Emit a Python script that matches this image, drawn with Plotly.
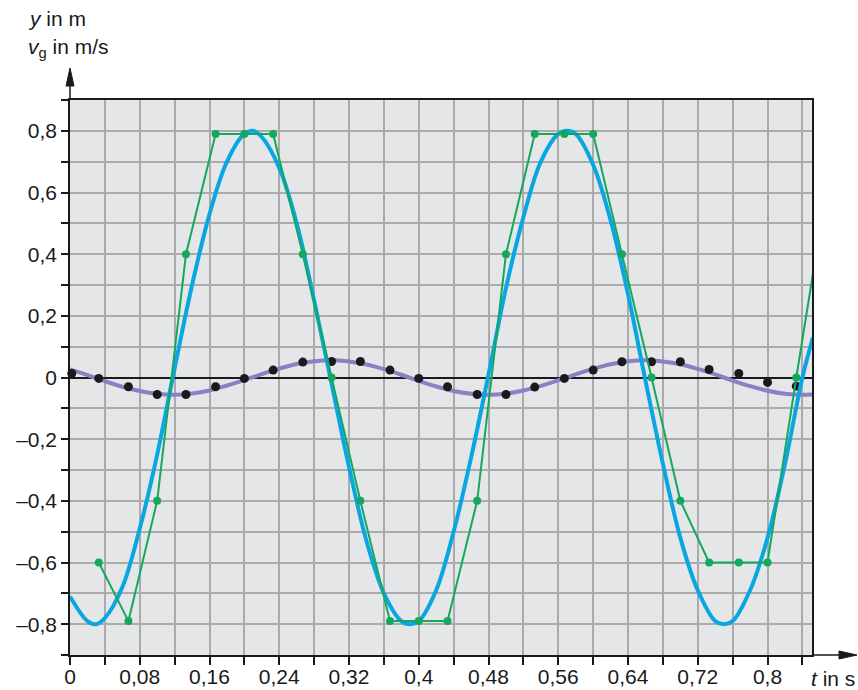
import plotly.graph_objects as go

# ---- data ----
t_blue = [0, 0.02, 0.03, 0.04, 0.06, 0.08, 0.10, 0.12, 0.14, 0.16, 0.18, 0.20, 0.21,
          0.22, 0.24, 0.26, 0.28, 0.30, 0.32, 0.34, 0.36, 0.38, 0.39,
          0.40, 0.42, 0.44, 0.46, 0.48, 0.50, 0.52, 0.54, 0.56, 0.57,
          0.58, 0.60, 0.62, 0.64, 0.66, 0.68, 0.70, 0.72, 0.74, 0.75,
          0.76, 0.78, 0.80, 0.82, 0.84, 0.852]
y_blue = [-0.71, -0.79, -0.80, -0.78, -0.68, -0.49, -0.25, 0.03, 0.30, 0.53, 0.70, 0.79, 0.80,
          0.78, 0.68, 0.50, 0.25, -0.02, -0.29, -0.53, -0.70, -0.79, -0.80,
          -0.79, -0.69, -0.50, -0.26, 0.01, 0.29, 0.52, 0.70, 0.79, 0.80,
          0.79, 0.69, 0.51, 0.27, -0.01, -0.28, -0.52, -0.69, -0.79, -0.80,
          -0.79, -0.69, -0.52, -0.28, 0.00, 0.13]

t_purple = [0, 0.02, 0.04, 0.06, 0.08, 0.10, 0.12, 0.14, 0.16, 0.18, 0.20, 0.22, 0.24,
            0.26, 0.28, 0.30, 0.32, 0.34, 0.36, 0.38, 0.40, 0.42, 0.44, 0.46, 0.48,
            0.50, 0.52, 0.54, 0.56, 0.58, 0.60, 0.62, 0.64, 0.66, 0.68, 0.70, 0.72,
            0.74, 0.76, 0.78, 0.80, 0.82, 0.84, 0.852]
y_purple = [0.026, 0.008, -0.012, -0.030, -0.044, -0.053, -0.056, -0.052, -0.042, -0.026,
            -0.008, 0.011, 0.029, 0.044, 0.053, 0.056, 0.052, 0.042, 0.027, 0.009, -0.011,
            -0.029, -0.044, -0.053, -0.056, -0.052, -0.042, -0.027, -0.009, 0.010, 0.028,
            0.043, 0.053, 0.056, 0.052, 0.043, 0.028, 0.010, -0.010, -0.028, -0.043,
            -0.053, -0.056, -0.055]

t_frames = [0.002, 0.033, 0.067, 0.1, 0.133, 0.167, 0.2, 0.233, 0.267, 0.3, 0.333, 0.367, 0.4,
            0.433, 0.467, 0.5, 0.533, 0.567, 0.6, 0.633, 0.667, 0.7, 0.733, 0.767, 0.8, 0.833]
y_black = [0.013, -0.003, -0.030, -0.055, -0.055, -0.030, -0.003, 0.024, 0.050, 0.052,
           0.052, 0.024, -0.003, -0.030, -0.055, -0.055, -0.031, -0.003, 0.024, 0.051,
           0.051, 0.051, 0.026, 0.013, -0.016, -0.028]

t_green = [0.033, 0.067, 0.1, 0.133, 0.167, 0.2, 0.233, 0.267, 0.3, 0.333, 0.367, 0.4,
           0.433, 0.467, 0.5, 0.533, 0.567, 0.6, 0.633, 0.667, 0.7, 0.733, 0.767, 0.8,
           0.833, 0.867]
v_green = [-0.60, -0.79, -0.40, 0.40, 0.79, 0.79, 0.79, 0.40, 0.00, -0.40, -0.79, -0.79,
           -0.79, -0.40, 0.40, 0.79, 0.79, 0.79, 0.40, 0.00, -0.40, -0.60, -0.60, -0.60,
           0.00, 0.60]

x_tickvals = [0, 0.08, 0.16, 0.24, 0.32, 0.40, 0.48, 0.56, 0.64, 0.72, 0.80]
x_ticktext = ["0", "0,08", "0,16", "0,24", "0,32", "0,4", "0,48", "0,56", "0,64", "0,72", "0,8"]
y_tickvals = [-0.8, -0.6, -0.4, -0.2, 0, 0.2, 0.4, 0.6, 0.8]
y_ticktext = ["\u20130,8", "\u20130,6", "\u20130,4", "\u20130,2", "0", "0,2", "0,4", "0,6", "0,8"]

FONT = "Liberation Sans, Arial, sans-serif"
INK = "#1a1a1a"
GRID = "#ababab"
FS = 21

fig = go.Figure()
fig.add_trace(go.Scatter(x=t_purple, y=y_purple, mode="lines",
                         line=dict(color="#8a80c4", width=4, shape="spline", smoothing=1.0),
                         hoverinfo="skip"))
fig.add_trace(go.Scatter(x=t_frames, y=y_black, mode="markers", cliponaxis=False,
                         marker=dict(color=INK, size=9)))
fig.add_trace(go.Scatter(x=t_blue, y=y_blue, mode="lines",
                         line=dict(color="#0aa6e2", width=4, shape="spline", smoothing=1.0)))
fig.add_trace(go.Scatter(x=t_green, y=v_green, mode="lines+markers",
                         line=dict(color="#14a85e", width=2),
                         marker=dict(color="#14a85e", size=8)))

fig.update_layout(
    width=858, height=690,
    margin=dict(l=70, r=46, t=100, b=35),
    paper_bgcolor="white",
    plot_bgcolor="#e5e6e8",
    showlegend=False,
    font=dict(family=FONT, size=FS, color=INK),
    xaxis=dict(range=[0, 0.851], tickvals=x_tickvals, ticktext=x_ticktext,
               automargin=False, ticklabelstandoff=-6,
               showgrid=True, gridcolor=GRID, gridwidth=1.5,
               ticks="outside", ticklen=8, tickwidth=1.5, tickcolor=INK,
               minor=dict(tick0=0, dtick=0.04, showgrid=True, gridcolor=GRID, gridwidth=1.5,
                          ticks="outside", ticklen=8, tickwidth=1.5, tickcolor=INK),
               showline=True, linecolor=INK, linewidth=1.5, mirror=True,
               zeroline=False, tickfont=dict(size=FS)),
    yaxis=dict(range=[-0.9, 0.9], tickvals=y_tickvals, ticktext=y_ticktext,
               automargin=False,
               showgrid=True, gridcolor=GRID, gridwidth=1.5,
               ticks="outside", ticklen=7, tickwidth=1.5, tickcolor=INK,
               minor=dict(tick0=-0.9, dtick=0.1, showgrid=True, gridcolor=GRID, gridwidth=1.5,
                          ticks="outside", ticklen=7, tickwidth=1.5, tickcolor=INK),
               showline=True, linecolor=INK, linewidth=1.5, mirror=True,
               zeroline=True, zerolinecolor=INK, zerolinewidth=1.5,
               tickfont=dict(size=FS)),
)

# plot area: 742 x 555 px
W, H = 742.0, 555.0
# y-axis arrow
fig.add_shape(type="line", xref="paper", yref="paper", x0=0, x1=0, y0=1, y1=1 + 20 / H,
              line=dict(color=INK, width=1.5))
fig.add_shape(type="path", xref="paper", yref="paper",
              path=f"M {-4/W} {1+14/H} L {4/W} {1+14/H} L 0 {1+32/H} Z",
              fillcolor=INK, line=dict(color=INK, width=1))
# x-axis arrow
fig.add_shape(type="line", xref="paper", yref="paper", x0=1, x1=1 + 30 / W, y0=0, y1=0,
              line=dict(color=INK, width=1.5))
fig.add_shape(type="path", xref="paper", yref="paper",
              path=f"M {1+27/W} {-4/H} L {1+27/W} {4/H} L {1+45/W} 0 Z",
              fillcolor=INK, line=dict(color=INK, width=1))

fig.add_annotation(xref="paper", yref="paper", x=-44 / W, y=1 + 81 / H, xanchor="left",
                   yanchor="middle", text="<i>y</i> in m", showarrow=False,
                   font=dict(size=FS, family=FONT))
fig.add_annotation(xref="paper", yref="paper", x=-44 / W, y=1 + 52 / H, xanchor="left",
                   yanchor="middle", text="<i>v</i><sub>g</sub> in m/s", showarrow=False,
                   font=dict(size=FS, family=FONT))
fig.add_annotation(xref="paper", yref="paper", x=1 + 44 / W, y=-23 / H, xanchor="right",
                   yanchor="middle", text="<i>t</i> in s", showarrow=False,
                   borderpad=0, font=dict(size=FS, family=FONT))

fig.write_html("out.html")
